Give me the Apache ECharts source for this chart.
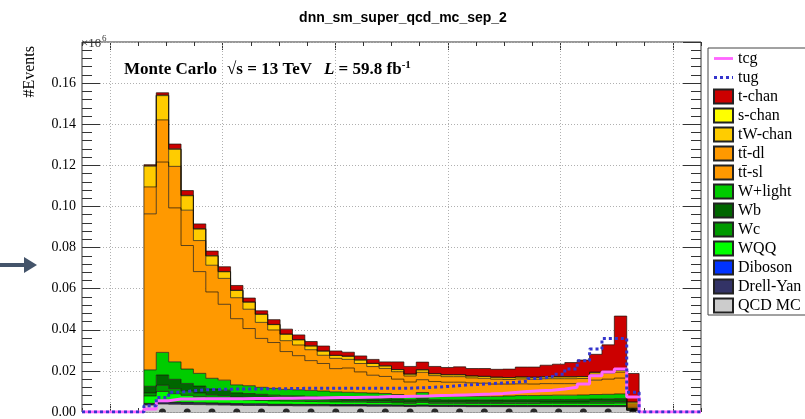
<!DOCTYPE html>
<html>
<head>
<meta charset="utf-8">
<script src="https://cdn.jsdelivr.net/npm/echarts@6/dist/echarts.min.js"></script>
<style>
  html, body { margin: 0; padding: 0; background: #fff; }
  #chart { width: 805px; height: 419px; }
</style>
</head>
<body>
<div id="chart"></div>
<script>
// Histogram binning of the DNN score
const histMin = -0.05;
const histMax = 1.05;
const binWidth = 0.022;
const nBinsTotal = 50;
const firstFilledBin = 5;          // bins before this one are empty

// Stacked backgrounds, events per bin (filled bins only)
const tChan = [500, 1100, 2300, 2300, 2300, 2200, 2300, 2300, 1900, 1600, 2300, 2400, 2300, 2100, 2400, 2100, 1900, 1900, 1900, 1900, 3700, 3700, 3700, 3500, 3500, 3800, 3600, 3800, 3800, 4100, 4800, 4900, 5600, 6100, 6900, 8000, 8700, 12800, 26300, 13900];
const sChan = [200, 300, 250, 220, 200, 180, 160, 150, 140, 130, 120, 110, 100, 100, 90, 90, 80, 80, 80, 80, 70, 70, 70, 60, 60, 60, 60, 60, 60, 60, 60, 60, 60, 60, 60, 60, 60, 60, 60, 40];
const tWChan = [10100, 11800, 8300, 7000, 5600, 4500, 3200, 3500, 3400, 3900, 2600, 3100, 2500, 1800, 2000, 1400, 1500, 1700, 1500, 1200, 1000, 900, 1200, 900, 900, 900, 900, 900, 900, 900, 900, 900, 900, 900, 900, 900, 900, 900, 900, 900];
const ttDL = [13100, 20500, 20200, 17200, 15100, 13000, 12600, 10200, 9400, 7800, 6100, 5300, 5200, 5300, 4000, 5000, 4200, 4100, 4200, 3900, 3600, 2900, 3600, 2900, 2700, 2700, 2400, 2400, 2400, 2200, 2400, 2400, 2400, 2400, 2400, 2400, 2900, 2900, 2900, 1000];
const ttSL = [75900, 92600, 74900, 60100, 49500, 42000, 36900, 32200, 27800, 23800, 22300, 18400, 16600, 14500, 13400, 11300, 11800, 10100, 8700, 8300, 7500, 6800, 6200, 7000, 6800, 6800, 6600, 6400, 6000, 5800, 5700, 5600, 5700, 5600, 5600, 5600, 7000, 7400, 7700, 900];
const wLight = [8000, 11000, 8500, 7000, 6200, 5200, 4900, 3900, 3800, 3400, 3300, 3100, 3000, 2900, 2800, 2600, 2500, 2400, 2400, 2300, 2100, 1800, 2900, 1800, 1800, 1800, 1800, 1700, 1800, 1900, 2000, 2000, 2000, 2100, 2100, 2100, 2200, 2200, 2300, 200];
const wb = [3200, 5000, 4500, 3800, 3300, 2800, 2600, 2100, 2000, 1900, 1800, 1700, 1700, 1600, 1500, 1500, 1500, 1400, 1400, 1300, 1300, 1200, 1300, 1200, 1100, 1100, 1100, 1200, 1100, 1100, 1200, 1200, 1200, 1200, 1200, 1300, 1300, 1400, 1400, 300];
const wc = [1500, 3000, 2500, 2000, 1800, 1500, 1400, 1200, 1200, 1100, 1000, 900, 900, 900, 900, 800, 800, 800, 800, 800, 700, 600, 700, 600, 600, 600, 600, 600, 600, 700, 700, 700, 700, 700, 700, 700, 800, 800, 800, 200];
const wqq = [3600, 5000, 4100, 3400, 3000, 2500, 2300, 1900, 1800, 1600, 1600, 1500, 1500, 1400, 1300, 1300, 1200, 1200, 1100, 1100, 1000, 900, 1200, 900, 900, 900, 900, 900, 900, 900, 900, 900, 1000, 1000, 1000, 1000, 1000, 1000, 1100, 300];
const diboson = [200, 200, 200, 200, 200, 200, 200, 200, 200, 200, 200, 200, 200, 200, 200, 200, 200, 200, 200, 200, 200, 200, 200, 200, 200, 200, 200, 200, 200, 200, 200, 200, 200, 200, 200, 200, 200, 200, 200, 100];
const drellYan = [600, 900, 800, 800, 700, 700, 700, 600, 600, 600, 500, 500, 500, 500, 500, 500, 500, 500, 500, 500, 400, 400, 400, 400, 400, 400, 400, 400, 400, 400, 400, 400, 400, 400, 400, 400, 400, 400, 400, 100];
const qcdMC = [3400, 3900, 3800, 3700, 3600, 3500, 3400, 3300, 3200, 3200, 3100, 3100, 3000, 3000, 3000, 2900, 2900, 2900, 2800, 2800, 2800, 2700, 2800, 2700, 2700, 2700, 2600, 2600, 2600, 2600, 2600, 2600, 2600, 2600, 2600, 2600, 2600, 2600, 2600, 800];

// FCNC signal templates (not stacked)
const tcg = [1500, 5500, 6300, 6300, 6400, 6400, 6500, 6500, 6600, 6600, 6700, 6700, 6800, 6800, 6900, 7000, 7100, 7200, 7300, 7500, 7600, 7700, 7800, 8000, 8100, 8300, 8500, 8700, 9000, 9500, 10000, 10300, 10600, 11200, 12000, 13600, 17600, 19500, 20900, 7300];
const tug = [3100, 7100, 9600, 10300, 10800, 11000, 11100, 11200, 11200, 11300, 11300, 11400, 11500, 11500, 11500, 11600, 11600, 11600, 11500, 11500, 11500, 11700, 11900, 12200, 12600, 13100, 13400, 13800, 14100, 14400, 15000, 16300, 17200, 18400, 20900, 24900, 30600, 35800, 35800, 9600];

// Observed (blinded) points, one per pair of bins
const observed = [0, 0, 0, 0, 0, 0, 0, 0, 0, 0, 0, 0, 0, 0, 0, 0, 0, 0, 0, 0];

// Axis ticks
const yMax = 180000;
const yStep = 20000;
const xMajorTicks = [0, 0.2, 0.4, 0.6, 0.8, 1.0];
const xMinorStep = 0.05;

const legendOrder = ['tcg', 'tug', 't-chan', 's-chan', 'tW-chan', 'tt\u0304-dl', 'tt\u0304-sl', 'W+light', 'Wb', 'Wc', 'WQQ', 'Diboson', 'Drell-Yan', 'QCD MC'];

// bottom-to-top stacking order
const stackLayers = [
  { name: 'QCD MC', values: qcdMC, color: '#cccccc' },
  { name: 'Drell-Yan', values: drellYan, color: '#333366' },
  { name: 'Diboson', values: diboson, color: '#0033ff' },
  { name: 'WQQ', values: wqq, color: '#00ff00' },
  { name: 'Wc', values: wc, color: '#009900' },
  { name: 'Wb', values: wb, color: '#006600' },
  { name: 'W+light', values: wLight, color: '#00cc00' },
  { name: 'tt\u0304-sl', values: ttSL, color: '#ff9900' },
  { name: 'tt\u0304-dl', values: ttDL, color: '#ff9900' },
  { name: 'tW-chan', values: tWChan, color: '#ffcc00' },
  { name: 's-chan', values: sChan, color: '#ffff00' },
  { name: 't-chan', values: tChan, color: '#cc0000' }
];

const nFilled = tChan.length;
const binEdge = k => histMin + (firstFilledBin + k) * binWidth;

// One custom series per background: a filled step polygon between the
// running stack sum below and above it, plus a dark outline on its top.
let running = new Array(nFilled).fill(0);
const layerSeries = stackLayers.map(layer => {
  const lower = running.slice();
  const upper = lower.map((v, k) => v + layer.values[k]);
  running = upper;
  return {
    type: 'custom',
    name: layer.name,
    coordinateSystem: 'cartesian2d',
    silent: true,
    z: 2,
    itemStyle: { color: layer.color, borderColor: '#222', borderWidth: 1 },
    data: [[histMin, 0]],
    renderItem: (params, api) => {
      const top = [], bottom = [];
      for (let k = 0; k < nFilled; k++) {
        const x0 = binEdge(k), x1 = binEdge(k + 1);
        top.push(api.coord([x0, upper[k]]), api.coord([x1, upper[k]]));
        bottom.push(api.coord([x0, lower[k]]), api.coord([x1, lower[k]]));
      }
      const outline = [bottom[0]].concat(top, [bottom[bottom.length - 1]]);
      return {
        type: 'group',
        children: [
          { type: 'polygon', z2: 0, shape: { points: top.concat(bottom.slice().reverse()) },
            style: { fill: layer.color } },
          { type: 'polyline', z2: 10, shape: { points: outline },
            style: { stroke: 'rgba(25,20,10,0.7)', lineWidth: 1, fill: null } }
        ]
      };
    }
  };
});

// Step-line points over the full axis range for the signal templates
function stepPoints(values) {
  const pts = [];
  for (let j = 0; j < nBinsTotal; j++) {
    const k = j - firstFilledBin;
    pts.push([histMin + j * binWidth, (k >= 0 && k < values.length) ? values[k] : 0]);
  }
  pts.push([histMax, 0]);
  return pts;
}

const observedPoints = observed.map((v, i) => [binEdge(2 * i + 1) + binWidth / 2, v]);

const serif = 'Liberation Serif';
const tickColor = '#333';

const xBase = {
  type: 'value', min: histMin, max: histMax,
  axisLine: { show: false, onZero: false }, axisLabel: { show: false }, splitLine: { show: false }
};
const yBase = {
  type: 'value', min: 0, max: yMax, interval: yStep,
  axisLine: { show: false, onZero: false },
  axisTick: { inside: true, length: 18, lineStyle: { color: tickColor } },
  minorTick: { show: true, splitNumber: 5, length: 10, lineStyle: { color: tickColor } }
};

const option = {
  animation: false,
  backgroundColor: '#ffffff',
  grid: { left: 82, right: 104, top: 42, bottom: 6, show: true, borderColor: '#333', borderWidth: 1 },
  xAxis: [
    Object.assign({}, xBase, { position: 'bottom', interval: xMinorStep,
      axisTick: { inside: true, length: 4, lineStyle: { color: tickColor } } }),
    Object.assign({}, xBase, { position: 'bottom',
      axisTick: { inside: true, length: 8, customValues: xMajorTicks, lineStyle: { color: tickColor } } }),
    Object.assign({}, xBase, { position: 'top', interval: xMinorStep,
      axisTick: { inside: true, length: 4, lineStyle: { color: tickColor } } }),
    Object.assign({}, xBase, { position: 'top',
      axisTick: { inside: true, length: 8, customValues: xMajorTicks, lineStyle: { color: tickColor } } })
  ],
  yAxis: [
    Object.assign({}, yBase, { position: 'left',
      axisLabel: { formatter: v => (v >= yMax ? '' : (v / 1e6).toFixed(2)),
        fontFamily: serif, fontSize: 14, color: '#000', margin: 6 },
      splitLine: { show: true, lineStyle: { color: '#b0b0b0', type: [1, 2], width: 1 } } }),
    Object.assign({}, yBase, { position: 'right', axisLabel: { show: false }, splitLine: { show: false } })
  ],
  legend: {
    orient: 'vertical', left: 708, top: 48,
    padding: [1, 30, 0, 5], itemGap: 0, itemWidth: 19, itemHeight: 14,
    backgroundColor: '#fff', borderColor: '#444', borderWidth: 1, borderRadius: 0,
    textStyle: { fontFamily: serif, fontSize: 16, color: '#000', lineHeight: 19 },
    data: legendOrder.map(n => {
      if (n === 'tcg') return { name: n, icon: 'path://M0,0H20V3H0Z' };
      if (n === 'tug') return { name: n, icon: 'path://M1,0H4V3H1Z M7,0H10V3H7Z M13,0H16V3H13Z M19,0H20V3H19Z' };
      return { name: n, icon: 'rect' };
    })
  },
  series: layerSeries.concat([
    {
      type: 'line', name: 'tcg', step: 'end', symbol: 'none', z: 3, silent: true,
      data: stepPoints(tcg),
      lineStyle: { color: '#ff66ff', width: 3 },
      itemStyle: { color: '#ff66ff' },
      markLine: {
        silent: true, symbol: 'none', z: 1, label: { show: false },
        lineStyle: { color: '#b0b0b0', type: [1, 2], width: 1 },
        data: xMajorTicks.map(x => ({ xAxis: x }))
      }
    },
    {
      type: 'line', name: 'tug', step: 'end', symbol: 'none', z: 4, silent: true,
      data: stepPoints(tug),
      lineStyle: { color: '#3535cc', width: 3, type: [3, 3] },
      itemStyle: { color: '#3535cc' }
    },
    {
      type: 'scatter', name: 'observed', z: 5, silent: true,
      symbol: 'path://M0,10A10,10 0 0 1 20,10Z', symbolSize: [7, 3.5], symbolOffset: [0, '-50%'],
      itemStyle: { color: '#000' },
      data: observedPoints
    }
  ]),
  graphic: [
    { type: 'text', x: 403, y: 18, style: { text: 'dnn_sm_super_qcd_mc_sep_2', align: 'center', verticalAlign: 'middle',
        font: 'bold 14px "Liberation Sans", Arial, sans-serif', fill: '#000' } },
    { type: 'text', x: 124, y: 70, style: { text: 'Monte Carlo', verticalAlign: 'middle',
        font: 'bold 17px "Liberation Serif", serif', fill: '#000' } },
    { type: 'text', x: 227, y: 70, style: {
        text: '{b|\u221As = 13 TeV}{g|}{i|L}{b| = 59.8 fb}{s|-1}', verticalAlign: 'middle',
        rich: {
          b: { font: 'bold 17px "Liberation Serif", serif', fill: '#000', lineHeight: 20 },
          i: { font: 'italic bold 17px "Liberation Serif", serif', fill: '#000', lineHeight: 20 },
          g: { width: 12, lineHeight: 20 },
          s: { font: 'bold 11px "Liberation Serif", serif', fill: '#000', lineHeight: 12, verticalAlign: 'top' }
        } } },
    { type: 'text', x: 81, y: 44, style: { text: '\u00D710', verticalAlign: 'middle',
        font: '13px "Liberation Serif", serif', fill: '#333' } },
    { type: 'text', x: 102, y: 39, style: { text: '6', verticalAlign: 'middle',
        font: '9px "Liberation Serif", serif', fill: '#333' } },
    { type: 'text', x: 30, y: 46, rotation: Math.PI / 2, style: { text: '#Events', align: 'right', verticalAlign: 'middle',
        font: '16px "Liberation Serif", serif', fill: '#000' } },
    { type: 'line', shape: { x1: 0, y1: 265, x2: 26, y2: 265 }, style: { stroke: '#44546a', lineWidth: 4 } },
    { type: 'polygon', shape: { points: [[24, 257], [37, 265], [24, 273]] }, style: { fill: '#44546a' } }
  ]
};

const chart = echarts.init(document.getElementById('chart'), null, { renderer: 'canvas' });
chart.setOption(option);
</script>
</body>
</html>
